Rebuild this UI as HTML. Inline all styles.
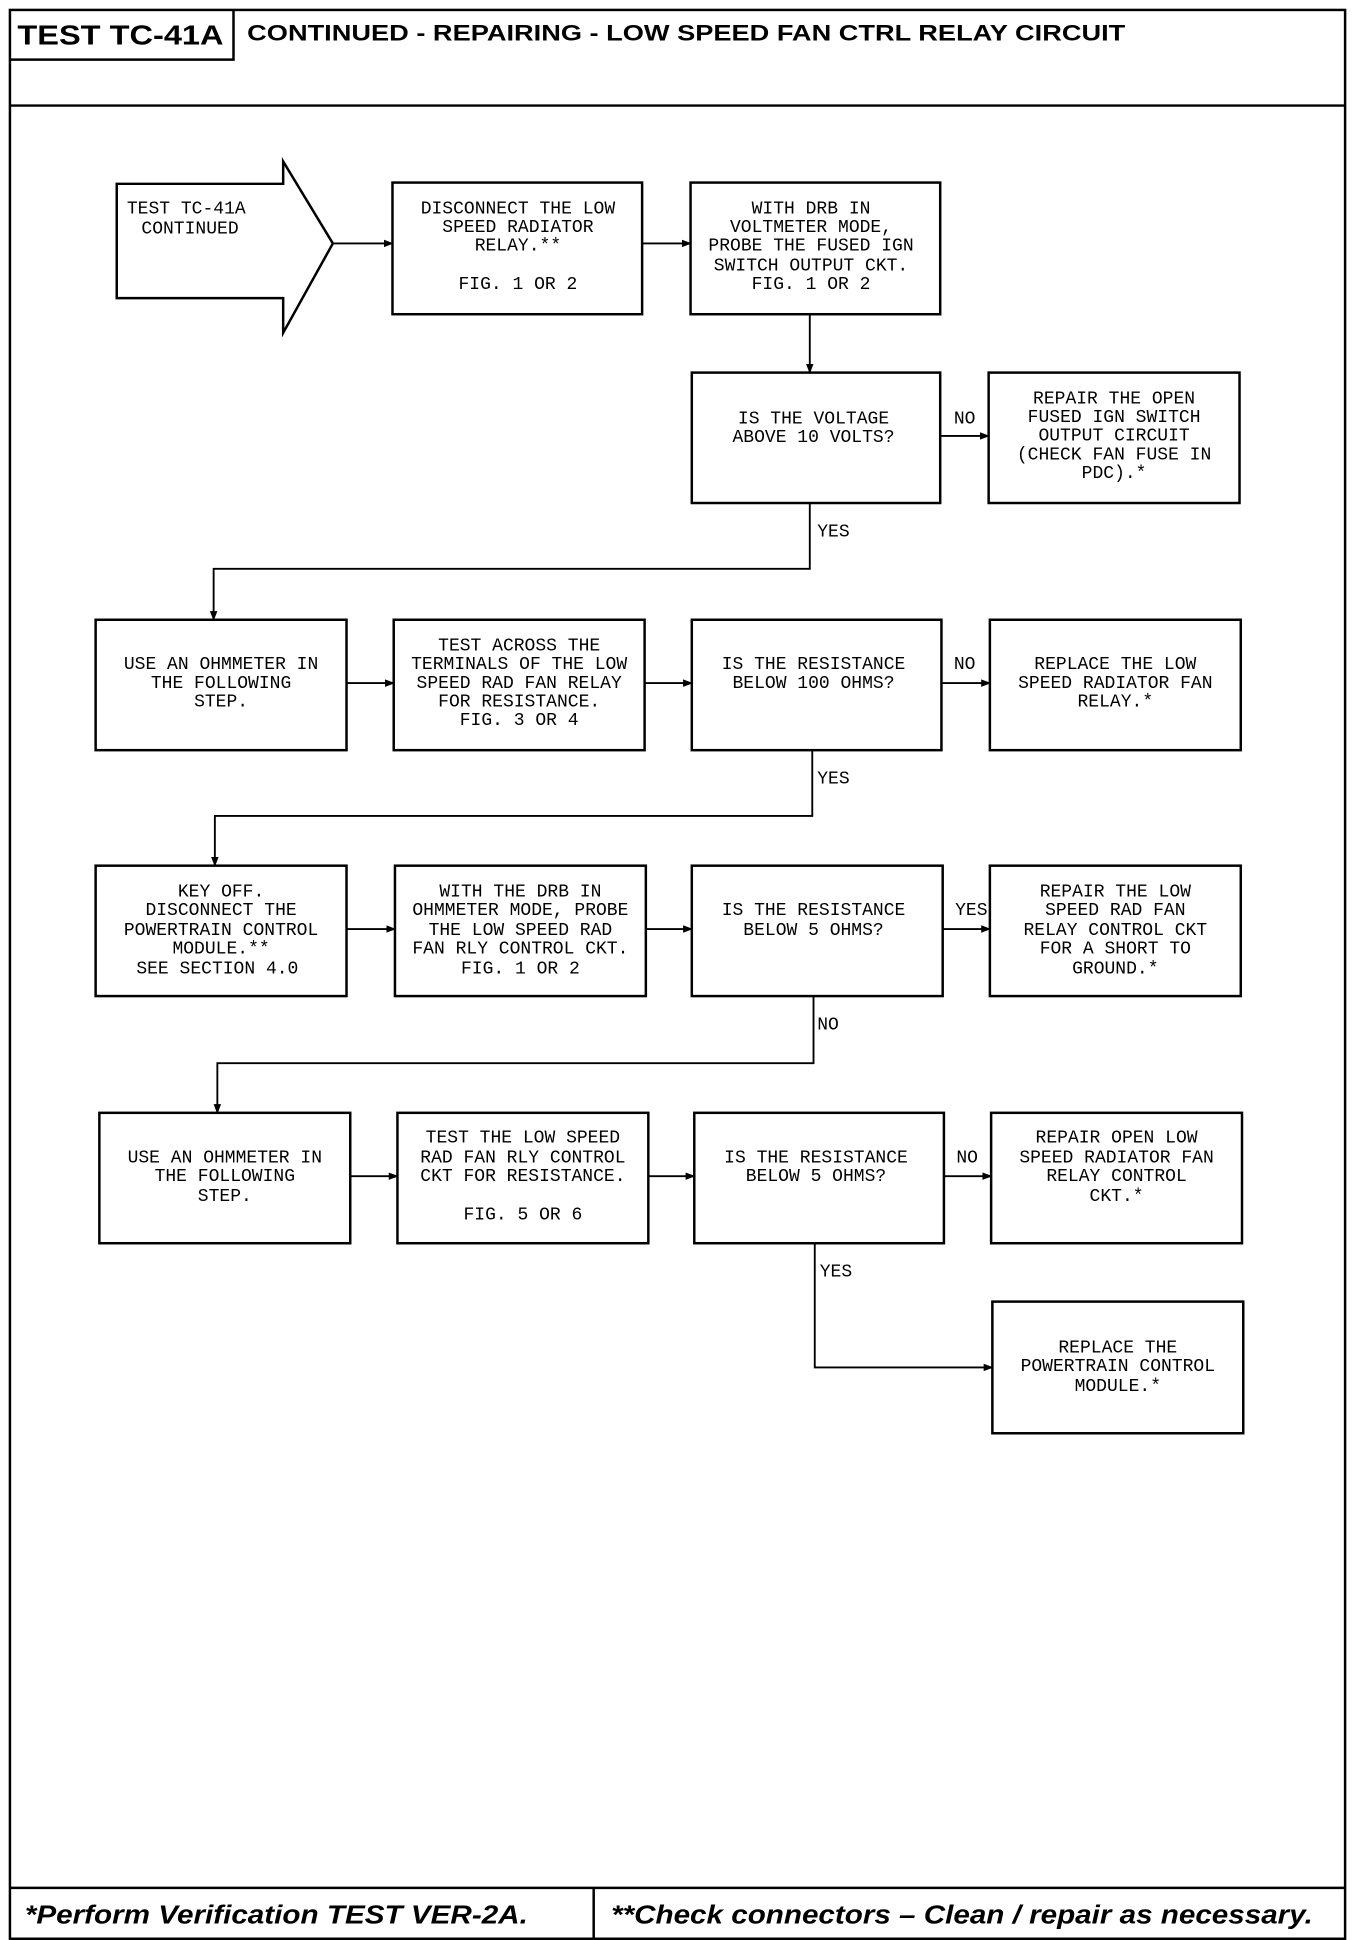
<!DOCTYPE html>
<html><head><meta charset="utf-8"><style>
html,body{margin:0;padding:0;background:#fff;}
svg{display:block;}
.t{font-family:"Liberation Mono",monospace;font-size:14.5px;fill:#000;text-anchor:middle;dominant-baseline:middle;}
.l{font-family:"Liberation Mono",monospace;font-size:14.5px;fill:#000;dominant-baseline:middle;}
</style></head><body>
<svg width="1360" height="1940" viewBox="0 0 1095 1562" preserveAspectRatio="none" xmlns="http://www.w3.org/2000/svg">
<defs><marker id="a" markerWidth="8" markerHeight="8" refX="7" refY="4" orient="auto" markerUnits="userSpaceOnUse"><path d="M0,1 L8,4 L0,7 Z" fill="#000"/></marker></defs>
<g fill="none" stroke="#000" stroke-width="2">
<rect x="8" y="8" width="1075" height="1553"/>
<line x1="8" y1="85" x2="1083" y2="85"/>
<polyline points="8,48 188,48 188,8"/>
<line x1="8" y1="1520" x2="1083" y2="1520"/>
<line x1="478" y1="1520" x2="478" y2="1561"/>
<polygon points="94,148 228,148 228,130 268,196 228,268 228,240 94,240"/>
<rect x="316" y="147" width="201" height="106"/>
<rect x="556" y="147" width="201" height="106"/>
<rect x="557" y="300" width="200" height="105"/>
<rect x="796" y="300" width="202" height="105"/>
<rect x="77" y="499" width="202" height="105"/>
<rect x="317" y="499" width="202" height="105"/>
<rect x="557" y="499" width="201" height="105"/>
<rect x="797" y="499" width="202" height="105"/>
<rect x="77" y="697" width="202" height="105"/>
<rect x="318" y="697" width="202" height="105"/>
<rect x="557" y="697" width="202" height="105"/>
<rect x="797" y="697" width="202" height="105"/>
<rect x="80" y="896" width="202" height="105"/>
<rect x="320" y="896" width="202" height="105"/>
<rect x="559" y="896" width="201" height="105"/>
<rect x="798" y="896" width="202" height="105"/>
<rect x="799" y="1048" width="202" height="106"/>
</g>
<g fill="none" stroke="#000" stroke-width="1.5" marker-end="url(#a)">
<line x1="268" y1="196" x2="316" y2="196"/>
<line x1="517" y1="196" x2="556" y2="196"/>
<line x1="652" y1="253" x2="652" y2="300"/>
<line x1="757" y1="351" x2="796" y2="351"/>
<polyline points="652,405 652,458 172,458 172,499"/>
<line x1="279" y1="550" x2="317" y2="550"/>
<line x1="519" y1="550" x2="557" y2="550"/>
<line x1="758" y1="550" x2="797" y2="550"/>
<polyline points="654,604 654,657 173,657 173,697"/>
<line x1="279" y1="748" x2="318" y2="748"/>
<line x1="520" y1="748" x2="557" y2="748"/>
<line x1="759" y1="748" x2="797" y2="748"/>
<polyline points="655,802 655,856 175,856 175,896"/>
<line x1="282" y1="947" x2="320" y2="947"/>
<line x1="522" y1="947" x2="559" y2="947"/>
<line x1="760" y1="947" x2="798" y2="947"/>
<polyline points="656,1001 656,1101 799,1101"/>
</g>
<text x="97" y="30" font-family="Liberation Sans,sans-serif" font-weight="bold" font-size="22" text-anchor="middle" dominant-baseline="middle" textLength="166" lengthAdjust="spacingAndGlyphs">TEST TC-41A</text>
<text x="199" y="28" font-family="Liberation Sans,sans-serif" font-weight="bold" font-size="18" dominant-baseline="middle" textLength="707" lengthAdjust="spacingAndGlyphs">CONTINUED -  REPAIRING - LOW SPEED FAN CTRL RELAY CIRCUIT</text>
<text x="20" y="1543" font-family="Liberation Sans,sans-serif" font-weight="bold" font-style="italic" font-size="21" dominant-baseline="middle" textLength="405" lengthAdjust="spacingAndGlyphs">*Perform Verification TEST VER-2A.</text>
<text x="492" y="1543" font-family="Liberation Sans,sans-serif" font-weight="bold" font-style="italic" font-size="21" dominant-baseline="middle" textLength="565" lengthAdjust="spacingAndGlyphs">**Check connectors – Clean / repair as necessary.</text>
<g class="t">
<text x="150" y="168">TEST TC-41A</text>
<text x="153" y="184">CONTINUED</text>
<text x="417" y="168">DISCONNECT THE LOW</text><text x="417" y="183">SPEED RADIATOR</text><text x="417" y="198">RELAY.**</text><text x="417" y="229">FIG. 1 OR 2</text>
<text x="653" y="168">WITH DRB IN</text><text x="653" y="183">VOLTMETER MODE,</text><text x="653" y="198">PROBE THE FUSED IGN</text><text x="653" y="214">SWITCH OUTPUT CKT.</text><text x="653" y="229">FIG. 1 OR 2</text>
<text x="655" y="337">IS THE VOLTAGE</text><text x="655" y="352">ABOVE 10 VOLTS?</text>
<text x="897" y="321">REPAIR THE OPEN</text><text x="897" y="336">FUSED IGN SWITCH</text><text x="897" y="351">OUTPUT CIRCUIT</text><text x="897" y="366">(CHECK FAN FUSE IN</text><text x="897" y="381">PDC).*</text>
<text x="178" y="535">USE AN OHMMETER IN</text><text x="178" y="550">THE FOLLOWING</text><text x="178" y="565">STEP.</text>
<text x="418" y="520">TEST ACROSS THE</text><text x="418" y="535">TERMINALS OF THE LOW</text><text x="418" y="550">SPEED RAD FAN RELAY</text><text x="418" y="565">FOR RESISTANCE.</text><text x="418" y="580">FIG. 3 OR 4</text>
<text x="655" y="535">IS THE RESISTANCE</text><text x="655" y="550">BELOW 100 OHMS?</text>
<text x="898" y="535">REPLACE THE LOW</text><text x="898" y="550">SPEED RADIATOR FAN</text><text x="898" y="565">RELAY.*</text>
<text x="178" y="718">KEY OFF.</text><text x="178" y="733">DISCONNECT THE</text><text x="178" y="749">POWERTRAIN CONTROL</text><text x="178" y="764">MODULE.**</text><text x="175" y="780">SEE SECTION 4.0</text>
<text x="419" y="718">WITH THE DRB IN</text><text x="419" y="733">OHMMETER MODE, PROBE</text><text x="419" y="749">THE LOW SPEED RAD</text><text x="419" y="764">FAN RLY CONTROL CKT.</text><text x="419" y="780">FIG. 1 OR 2</text>
<text x="655" y="733">IS THE RESISTANCE</text><text x="655" y="749">BELOW 5 OHMS?</text>
<text x="898" y="718">REPAIR THE LOW</text><text x="898" y="733">SPEED RAD FAN</text><text x="898" y="749">RELAY CONTROL CKT</text><text x="898" y="764">FOR A SHORT TO</text><text x="898" y="780">GROUND.*</text>
<text x="181" y="932">USE AN OHMMETER IN</text><text x="181" y="947">THE FOLLOWING</text><text x="181" y="963">STEP.</text>
<text x="421" y="916">TEST THE LOW SPEED</text><text x="421" y="932">RAD FAN RLY CONTROL</text><text x="421" y="947">CKT FOR RESISTANCE.</text><text x="421" y="978">FIG. 5 OR 6</text>
<text x="657" y="932">IS THE RESISTANCE</text><text x="657" y="947">BELOW 5 OHMS?</text>
<text x="899" y="916">REPAIR OPEN LOW</text><text x="899" y="932">SPEED RADIATOR FAN</text><text x="899" y="947">RELAY CONTROL</text><text x="899" y="963">CKT.*</text>
<text x="900" y="1085">REPLACE THE</text><text x="900" y="1100">POWERTRAIN CONTROL</text><text x="900" y="1116">MODULE.*</text>
</g>
<g class="l">
<text x="768" y="337">NO</text>
<text x="658" y="428">YES</text>
<text x="768" y="535">NO</text>
<text x="658" y="627">YES</text>
<text x="769" y="733">YES</text>
<text x="658" y="825">NO</text>
<text x="770" y="932">NO</text>
<text x="660" y="1024">YES</text>
</g>
</svg>
</body></html>
